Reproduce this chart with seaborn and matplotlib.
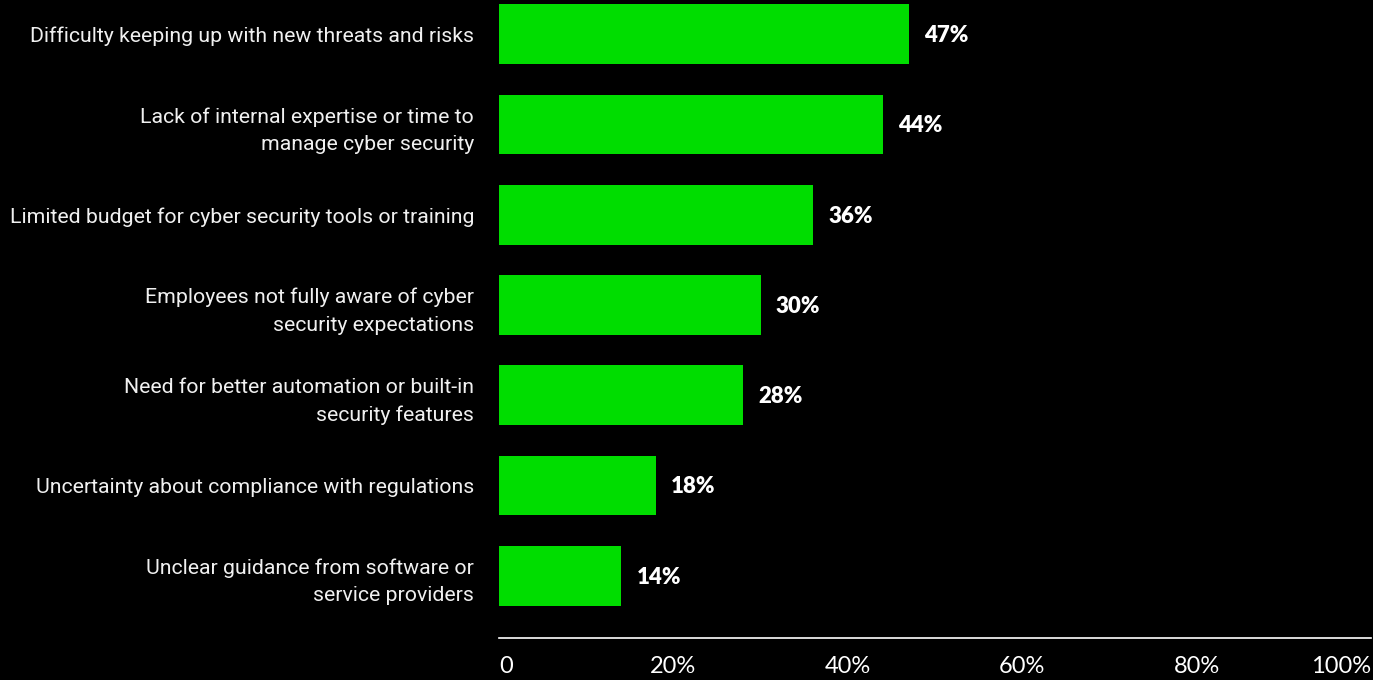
import matplotlib
matplotlib.use("Agg")
import matplotlib.pyplot as plt
import seaborn as sns
import pandas as pd

challenges = [
    "Difficulty keeping up with new threats and risks",
    "Lack of internal expertise or time to\nmanage cyber security",
    "Limited budget for cyber security tools or training",
    "Employees not fully aware of cyber\nsecurity expectations",
    "Need for better automation or built-in\nsecurity features",
    "Uncertainty about compliance with regulations",
    "Unclear guidance from software or\nservice providers",
]
shares = [47, 44, 36, 30, 28, 18, 14]
tick_values = [0, 20, 40, 60, 80, 100]
tick_labels = ["0", "20%", "40%", "60%", "80%", "100%"]

df = pd.DataFrame({"challenge": challenges, "share": shares})

sns.set_theme(style="dark")
plt.rcParams["font.family"] = ["Roboto", "DejaVu Sans"]

BG = "#000000"
GREEN = "#00dd00"

fig = plt.figure(figsize=(13.73, 6.80), dpi=100, facecolor=BG)
ax = fig.add_axes([499 / 1373, 1 - 638 / 680, 872 / 1373, 638 / 680])
ax.set_facecolor(BG)

sns.barplot(data=df, x="share", y="challenge", orient="h", color=GREEN,
            saturation=1, width=0.664, linewidth=0, edgecolor=GREEN, ax=ax)

ax.set_xlim(0, 100)
ax.set_ylim(6.69, -0.38)

# value labels to the right of each bar
for i, v in enumerate(shares):
    ax.annotate(f"{v}%", xy=(v, i), xytext=(11, -1), textcoords="offset points",
                ha="left", va="center", color="white", fontsize=16,
                fontweight="heavy", family=["Lato", "DejaVu Sans"])

# category labels
ax.tick_params(axis="y", length=0, pad=18, colors="white")
for lab in ax.get_yticklabels():
    lab.set_fontsize(15.3)
    lab.set_color("#f0f0f0")
    lab.set_multialignment("right")
    lab.set_linespacing(1.55)

# bottom axis
ax.set_xticks(tick_values)
ax.set_xticklabels(tick_labels)
ax.tick_params(axis="x", length=0, pad=13, colors="white")
xlabels = ax.get_xticklabels()
for lab in xlabels:
    lab.set_fontsize(17)
    lab.set_fontfamily(["Lato", "DejaVu Sans"])
    lab.set_fontweight("normal")
    lab.set_color("white")
xlabels[0].set_horizontalalignment("left")
xlabels[-1].set_horizontalalignment("right")

ax.set_xlabel("")
ax.set_ylabel("")
ax.grid(False)
for side in ["top", "right", "left"]:
    ax.spines[side].set_visible(False)
ax.spines["bottom"].set_visible(True)
ax.spines["bottom"].set_color("white")
ax.spines["bottom"].set_linewidth(1.2)

fig.savefig("out.png", dpi=100, facecolor=BG)
